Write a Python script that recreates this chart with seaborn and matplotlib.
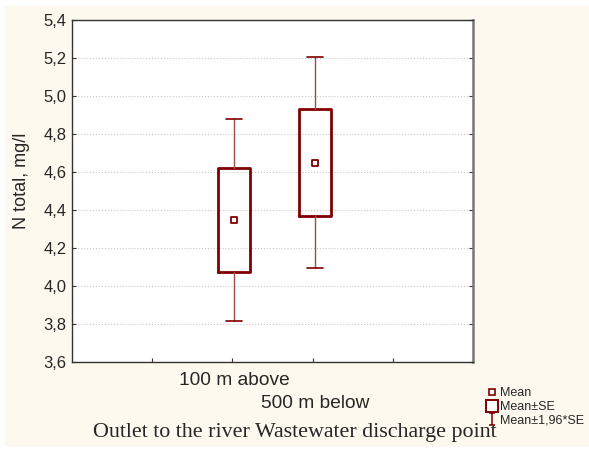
import matplotlib
matplotlib.use("Agg")
import matplotlib.pyplot as plt
from matplotlib.lines import Line2D
from matplotlib.path import Path
from matplotlib.patches import Rectangle
import pandas as pd
import seaborn as sns

# values
groups = ["100 m above", "500 m below"]
means = [4.347, 4.649]
se = [0.273, 0.280]
se196 = [0.532, 0.555]
yticks = [3.6, 3.8, 4.0, 4.2, 4.4, 4.6, 4.8, 5.0, 5.2, 5.4]
ytick_labels = ["3,6", "3,8", "4,0", "4,2", "4,4", "4,6", "4,8", "5,0", "5,2", "5,4"]

positions = [2.02, 3.03]
red = "#800000"

sns.set_style("ticks")
plt.rcParams['font.family'] = ['Liberation Sans', 'DejaVu Sans']

fig = plt.figure(figsize=(5.89, 4.5), dpi=100)
fig.patch.set_facecolor("white")
fig.patches.append(Rectangle((5 / 589, 3 / 450), 1, 1 - 9 / 450, transform=fig.transFigure,
                             facecolor="#fdf9ee", edgecolor="none", zorder=-10))
ax = fig.add_axes([72 / 589, 1 - 362 / 450, 401 / 589, 342 / 450])
ax.set_facecolor("white")

stats = []
for g, m, s, s2 in zip(groups, means, se, se196):
    stats.append(dict(label=g, med=m, q1=m - s, q3=m + s, whislo=m - s2, whishi=m + s2, fliers=[]))

ax.bxp(stats, positions=positions, widths=0.4, showcaps=True, showfliers=False,
       boxprops=dict(color=red, linewidth=2),
       medianprops=dict(linewidth=0),
       whiskerprops=dict(color="#a04a4a", linewidth=1),
       capprops=dict(color=red, linewidth=1.2),
       capwidths=0.2, manage_ticks=False)

df = pd.DataFrame({"pos": positions, "mean": means})
sns.scatterplot(data=df, x="pos", y="mean", marker="s", s=22, facecolor="white",
                edgecolor=red, linewidth=1.3, ax=ax, zorder=5)

ax.set_xlim(0, 5)
ax.set_ylim(3.6, 5.4)
ax.set_xticks([1, 2, 3, 4])
ax.set_xticklabels([])
ax.set_yticks(yticks)
ax.set_yticklabels(ytick_labels, fontsize=12)
ax.tick_params(direction="in", length=3, color="#333333", right=True, top=False)
ax.tick_params(axis="y", pad=4)
ax.set_xlabel("")
ax.set_ylabel("N total, mg/l", fontsize=13, labelpad=6)
ax.yaxis.set_label_coords(-0.105, 0.53)
ax.yaxis.grid(True, linestyle=":", color="#c8c8c8", linewidth=0.8)
for side in ["left", "bottom", "top"]:
    ax.spines[side].set_visible(True)
    ax.spines[side].set_color("#333333")
    ax.spines[side].set_linewidth(1)
ax.spines["right"].set_visible(True)
ax.spines["right"].set_color("#777777")
ax.spines["right"].set_linewidth(1.8)

# category labels, staggered like the original
tr = ax.get_xaxis_transform()
ax.text(positions[0], -0.055, groups[0], transform=tr, ha="center", va="center", fontsize=13.8)
ax.text(positions[1], -0.12, groups[1], transform=tr, ha="center", va="center", fontsize=13.8)

fig.text(0.5, 1 - 433 / 450, "Outlet to the river Wastewater discharge point", ha="center",
         va="center", fontsize=15.8, family=["Liberation Serif", "DejaVu Serif"])

# legend with an I-shaped whisker glyph
ibar = Path([(-0.5, 1), (0.5, 1), (0, 1), (0, -1), (-0.5, -1), (0.5, -1)],
            [Path.MOVETO, Path.LINETO, Path.MOVETO, Path.LINETO, Path.MOVETO, Path.LINETO])
handles = [
    Line2D([], [], ls="none", marker="s", markersize=4.5, markerfacecolor="white",
           markeredgecolor=red, markeredgewidth=1.2),
    Line2D([], [], ls="none", marker="s", markersize=8, markerfacecolor="white",
           markeredgecolor=red, markeredgewidth=1.4),
    Line2D([], [], ls="none", marker=ibar, markersize=8.5, markeredgecolor=red,
           markeredgewidth=1.1),
]
fig.legend(handles, ["Mean", "Mean±SE", "Mean±1,96*SE"], loc="upper left",
           bbox_to_anchor=(480 / 589, 1 - 381 / 450), frameon=False, fontsize=9,
           handlelength=0.9, handletextpad=0.2, labelspacing=0.14, borderpad=0)

fig.savefig("out.png", dpi=100, facecolor=fig.get_facecolor())
